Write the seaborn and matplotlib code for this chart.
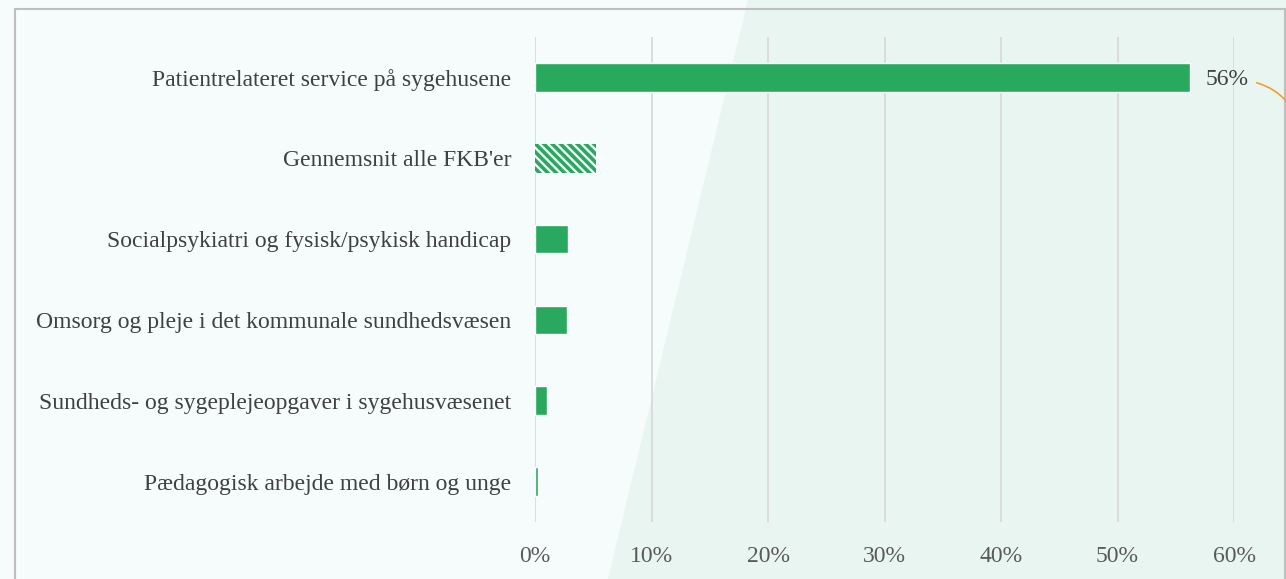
import matplotlib
matplotlib.use("Agg")
import matplotlib.pyplot as plt
import seaborn as sns
import pandas as pd
from matplotlib.patches import Polygon, Rectangle

categories = [
    "Patientrelateret service på sygehusene",
    "Gennemsnit alle FKB'er",
    "Socialpsykiatri og fysisk/psykisk handicap",
    "Omsorg og pleje i det kommunale sundhedsvæsen",
    "Sundheds- og sygeplejeopgaver i sygehusvæsenet",
    "Pædagogisk arbejde med børn og unge",
]
values = [56.2, 5.2, 2.8, 2.75, 1.0, 0.25]
xticks = [0, 10, 20, 30, 40, 50, 60]
xticklabels = ["0%", "10%", "20%", "30%", "40%", "50%", "60%"]
highlight_label = "56%"

sns.set_theme(style="white")
plt.rcParams["font.family"] = ["Liberation Serif", "DejaVu Serif"]
plt.rcParams["hatch.linewidth"] = 2.6

W, H = 1286, 579
fig = plt.figure(figsize=(W / 100, H / 100), dpi=100)
fig.patch.set_facecolor("#f6fbfc")

# diagonal light-green background region
poly = Polygon([(608 / W, 0), (748 / W, 1), (1, 1), (1, 0)], closed=True,
               transform=fig.transFigure, facecolor="#e8f5f0", edgecolor="none", zorder=0)
fig.patches.append(poly)
# frame
frame = Rectangle((15 / W, -0.05), (1284.5 - 15) / W, (579 - 9) / H + 0.05,
                  transform=fig.transFigure, facecolor="none", edgecolor="#bfbfbf",
                  linewidth=1.5, zorder=1)
fig.patches.append(frame)

ax = fig.add_axes([535 / W, (579 - 522) / H, (1234 - 535) / W, (522 - 37) / H])
ax.set_facecolor("none")
ax.set_zorder(5)

df = pd.DataFrame({"category": categories, "value": values})
sns.barplot(data=df, x="value", y="category", orient="h", color="#28a95d",
            saturation=1, width=0.355, ax=ax, zorder=3)

# hatched average bar
p = ax.patches[1]
p.set_facecolor("#f6fbfc")
p.set_edgecolor("#28a95d")
p.set_hatch("\\\\\\\\")
p.set_linewidth(0)

ax.set_xlim(0, 60)
ax.set_ylim(5.5, -0.5)
ax.set_xticks(xticks)
ax.set_xticklabels(xticklabels, color="#595959", fontsize=17)
ax.tick_params(axis="x", length=0, pad=17)
ax.tick_params(axis="y", length=0, pad=17, labelsize=17, labelcolor="#404040")
ax.set_xlabel("")
ax.set_ylabel("")
ax.grid(axis="x", color="#d9d9d9", linewidth=1.3, zorder=0)
ax.set_axisbelow(True)
for s in ax.spines.values():
    s.set_visible(False)

# value label for top bar
ax.text(values[0] + 1.4, 0.02, highlight_label, ha="left", va="center",
        fontsize=17, color="#404040")
# orange connector leaving the chart
ax.annotate("", xy=(1.0 + 0.01, 1 - 135 / H), xycoords="figure fraction",
            xytext=(1254 / W, 1 - 82 / H), textcoords="figure fraction",
            arrowprops=dict(arrowstyle="-", color="#f0a030", linewidth=1.2,
                            connectionstyle="arc3,rad=-0.35"),
            annotation_clip=False)

fig.savefig("out.png", dpi=100, facecolor=fig.get_facecolor())
